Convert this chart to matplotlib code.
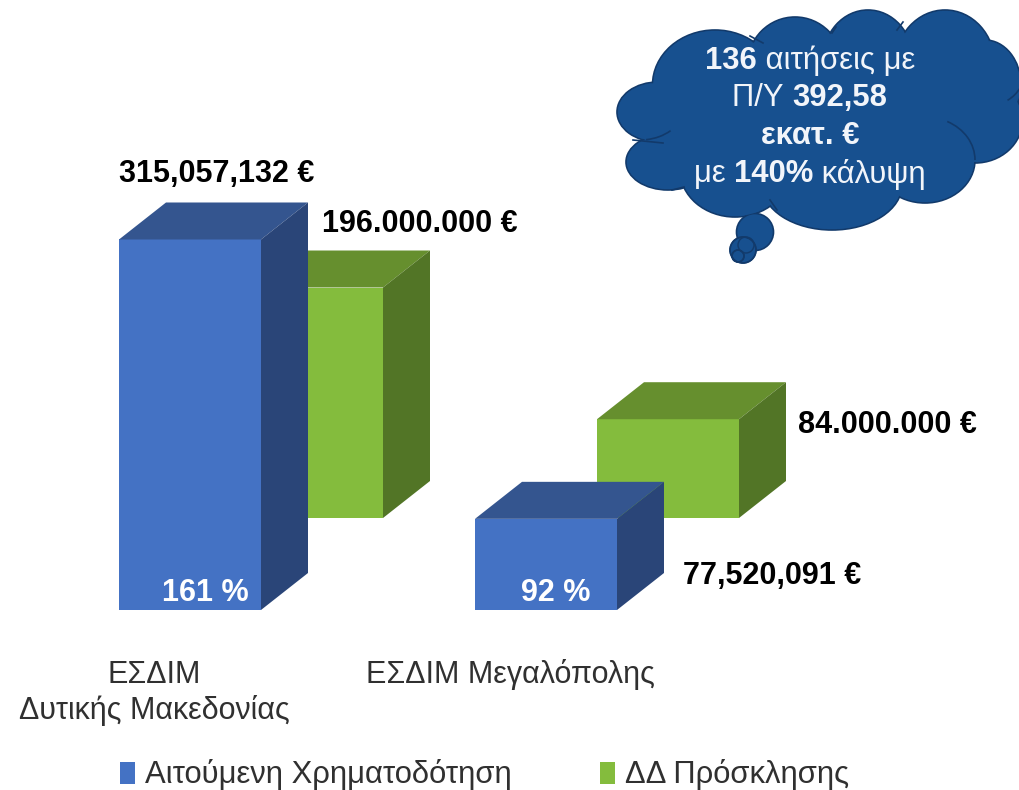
import matplotlib
matplotlib.use('Agg')
import matplotlib.pyplot as plt
from matplotlib.patches import Ellipse, Polygon, Arc, Patch

plt.rcParams['font.family'] = ['Liberation Sans', 'DejaVu Sans']

# values in millions of euro
requested = [315.057132, 77.520091]
call_budget = [196.0, 84.0]
requested_labels = ['315,057,132 €', '77,520,091 €']
budget_labels = ['196.000.000 €', '84.000.000 €']
coverage = ['161 %', '92 %']
series_names = ['Αιτούμενη Χρηματοδότηση', 'ΔΔ Πρόσκλησης']
categories = ['ΕΣΔΙΜ\nΔυτικής Μακεδονίας', 'ΕΣΔΙΜ Μεγαλόπολης']

W, H = 1020, 790
PX_PER_M = 1.176   # picture pixels per million euro
BASE_PX = 610      # bottom of the front bars
BAR_W = 142
DX, DY = 47, 37    # 3d depth of a bar
GREEN_SHIFT = 92   # green bars stand further back

fig = plt.figure(figsize=(W / 100, H / 100), dpi=100)

# value axes: x in pixels, y in millions of euro
ax = fig.add_axes([0, 0, 1, 1])
ax.set_xlim(0, W)
ax.set_ylim((BASE_PX - H) / PX_PER_M, BASE_PX / PX_PER_M)
ax.axis('off')

# overlay in picture pixels for the labels and the cloud
deco = fig.add_axes([0, 0, 1, 1])
deco.set_xlim(0, W)
deco.set_ylim(H, 0)
deco.axis('off')
deco.patch.set_alpha(0)


def bar3d(x, value, base, colors, zorder):
    front, top, side = colors
    dx = DX
    dy = DY / PX_PER_M
    y0, y1 = base, base + value
    ax.add_patch(Polygon([(x, y0), (x + BAR_W, y0), (x + BAR_W, y1), (x, y1)],
                         fc=front, ec='none', zorder=zorder))
    ax.add_patch(Polygon([(x, y1), (x + BAR_W, y1), (x + BAR_W + dx, y1 + dy), (x + dx, y1 + dy)],
                         fc=top, ec='none', zorder=zorder))
    ax.add_patch(Polygon([(x + BAR_W, y0), (x + BAR_W + dx, y0 + dy), (x + BAR_W + dx, y1 + dy), (x + BAR_W, y1)],
                         fc=side, ec='none', zorder=zorder))


BLUE = ('#4472C4', '#34558F', '#2A4578')
GREEN = ('#84BC3D', '#668F2E', '#527526')
blue_x = [119, 475]
green_x = [241, 597]

for i in range(2):
    bar3d(green_x[i], call_budget[i], GREEN_SHIFT / PX_PER_M, GREEN, 2 + i)
    bar3d(blue_x[i], requested[i], 0, BLUE, 3 + i)

# value labels
deco.text(119, 174, requested_labels[0], fontsize=22, fontweight='bold', va='center')
deco.text(322, 224, budget_labels[0], fontsize=22, fontweight='bold', va='center')
deco.text(798, 425, budget_labels[1], fontsize=22, fontweight='bold', va='center')
deco.text(683, 576, requested_labels[1], fontsize=22, fontweight='bold', va='center')
deco.text(205, 593, coverage[0], fontsize=22, fontweight='bold', color='white', ha='center', va='center')
deco.text(556, 593, coverage[1], fontsize=22, fontweight='bold', color='white', ha='center', va='center')

# category labels
deco.text(154, 693, categories[0], fontsize=22, color='#303030', ha='center', va='center', linespacing=1.18)
deco.text(510, 675, categories[1], fontsize=22, color='#303030', ha='center', va='center')

# legend
handles = [Patch(fc=BLUE[0], ec='none'), Patch(fc=GREEN[0], ec='none')]
leg = deco.legend(handles, series_names, loc='center left', bbox_to_anchor=(120 / W, 1 - 775 / H),
                  bbox_transform=fig.transFigure, ncol=2, frameon=False, fontsize=22.3,
                  handlelength=0.5, handleheight=0.7, handletextpad=0.3, columnspacing=2.85,
                  borderpad=0, borderaxespad=0, labelcolor='#303030')

# thought bubble
CLOUD = '#17508F'
EDGE = '#123A6B'
lobes = [
    (658, 112, 82, 60), (668, 162, 84, 56), (715, 85, 125, 110), (795, 65, 95, 96),
    (868, 60, 90, 100), (945, 65, 100, 110), (985, 85, 72, 90), (975, 120, 95, 86),
    (925, 160, 100, 86), (832, 185, 140, 90), (735, 170, 110, 94), (800, 120, 290, 165),
]
bubbles = [(755, 232, 37, 37), (743, 250, 26, 26), (738, 256, 12, 12)]
for cx, cy, w, h in lobes + bubbles:
    deco.add_patch(Ellipse((cx, cy), w, h, fc=CLOUD, ec=EDGE, lw=1.2, zorder=5))
for cx, cy, w, h in lobes:
    deco.add_patch(Ellipse((cx, cy), w - 2, h - 2, fc=CLOUD, ec='none', zorder=6))
for cx, cy, d in [(743, 250, 26), (738, 256, 12), (746, 245, 16)]:
    deco.add_patch(Ellipse((cx, cy), d, d, fc='none', ec=EDGE, lw=1, zorder=7))
# creases where the lobes overlap
deco.add_patch(Arc((925, 160), 100, 86, theta1=-60, theta2=0, ec=EDGE, lw=1.2, zorder=7))
deco.add_patch(Arc((990, 70), 70, 70, theta1=30, theta2=60, ec=EDGE, lw=1.2, zorder=7))
deco.add_patch(Arc((640, 105), 90, 70, theta1=40, theta2=80, ec=EDGE, lw=1.2, zorder=7))
crease_x = [(633, 663), (672, 684), (770, 777), (750, 763), (832, 836), (897, 903)]
crease_y = [(140, 143), (190, 187), (200, 210), (36, 43), (33, 27), (30, 22)]
for xs, ys in zip(crease_x, crease_y):
    deco.plot(xs, ys, color=EDGE, lw=1.2, zorder=7)

# cloud text, bold and regular runs on one line
cloud_lines = [
    [('136', True), (' αιτήσεις με', False)],
    [('Π/Υ ', False), ('392,58', True)],
    [('εκατ. €', True)],
    [('με ', False), ('140%', True), (' κάλυψη', False)],
]
cloud_y = [61, 98, 136, 174]
rend = fig.canvas.get_renderer()
for runs, y in zip(cloud_lines, cloud_y):
    widths = []
    for s, bold in runs:
        t = deco.text(0, 0, s.replace(' ', '\u00a0'), fontsize=22.3, fontweight='bold' if bold else 'normal')
        widths.append(t.get_window_extent(rend).width)
        t.remove()
    x = 810 - sum(widths) / 2
    for (s, bold), w in zip(runs, widths):
        deco.text(x, y, s.replace(' ', '\u00a0'), fontsize=22.3, fontweight='bold' if bold else 'normal',
                  color='#F2F5FA', va='center', zorder=8)
        x += w

fig.savefig('out.png', dpi=100)
